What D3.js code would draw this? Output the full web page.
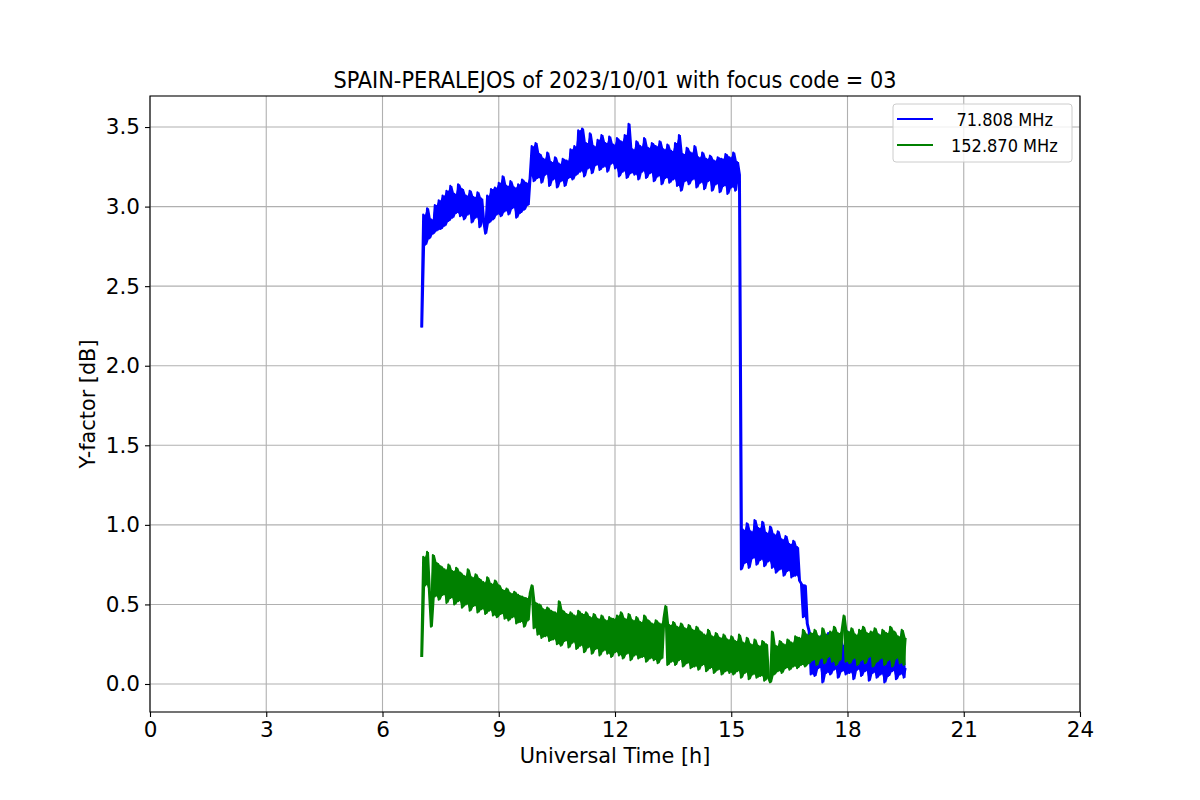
<!DOCTYPE html>
<html>
<head>
<meta charset="utf-8">
<script src="https://cdn.jsdelivr.net/npm/d3@7"></script>
<style>
  html, body { margin: 0; padding: 0; background: #fff; }
  svg { display: block; }
  .tick text { font-family: "DejaVu Sans", sans-serif; }
</style>
</head>
<body>
<svg id="chart" width="1200" height="800"></svg>
<script>
// ---- DATA ----
const titleText = "SPAIN-PERALEJOS of 2023/10/01 with focus code = 03";
const xLabel = "Universal Time [h]";
const yLabel = "Y-factor [dB]";
const seriesNames = ["71.808 MHz", "152.870 MHz"];
const xTicks = [0, 3, 6, 9, 12, 15, 18, 21, 24];
const yTicks = [0.0, 0.5, 1.0, 1.5, 2.0, 2.5, 3.0, 3.5];
const tStart = 7.0;   // first sample time [h]
const tStep = 0.05;   // sampling interval [h]

const blue = [
  2.24, 2.95, 2.76, 2.99, 2.80, 2.92, 2.83, 3.01, 2.85, 3.04, 2.86, 3.07, 2.88, 3.10, 2.91, 3.13, 2.93, 3.08, 2.96, 3.14,
  2.94, 3.11, 2.92, 3.07, 2.95, 3.10, 2.90, 3.06, 2.93, 3.09, 2.87, 3.05, 2.91, 2.83, 3.07, 2.90, 3.11, 2.92, 3.12, 2.95,
  3.15, 2.94, 3.19, 2.97, 3.13, 2.95, 3.16, 2.99, 3.12, 2.93, 3.14, 2.96, 3.17, 2.98, 3.15, 3.01, 3.19, 3.38, 3.16, 3.40,
  3.18, 3.33, 3.15, 3.30, 3.20, 3.34, 3.13, 3.28, 3.17, 3.31, 3.12, 3.27, 3.16, 3.30, 3.13, 3.29, 3.18, 3.36, 3.17, 3.38,
  3.20, 3.48, 3.22, 3.49, 3.19, 3.40, 3.24, 3.46, 3.21, 3.38, 3.26, 3.42, 3.23, 3.45, 3.25, 3.40, 3.22, 3.44, 3.27, 3.39,
  3.24, 3.43, 3.19, 3.41, 3.22, 3.45, 3.18, 3.52, 3.21, 3.36, 3.20, 3.41, 3.17, 3.38, 3.22, 3.43, 3.18, 3.37, 3.21, 3.40,
  3.16, 3.38, 3.19, 3.41, 3.14, 3.36, 3.18, 3.39, 3.15, 3.35, 3.17, 3.40, 3.13, 3.45, 3.10, 3.33, 3.16, 3.37, 3.14, 3.34,
  3.17, 3.38, 3.12, 3.31, 3.15, 3.34, 3.11, 3.30, 3.16, 3.32, 3.10, 3.29, 3.14, 3.31, 3.09, 3.30, 3.13, 3.33, 3.08, 3.31,
  3.12, 3.34, 3.10, 3.28, 3.20, 0.72, 0.97, 0.76, 1.01, 0.73, 0.96, 0.79, 1.03, 0.75, 0.98, 0.78, 1.02, 0.74, 0.95, 0.77,
  0.99, 0.73, 0.94, 0.70, 0.96, 0.72, 0.91, 0.68, 0.93, 0.71, 0.88, 0.67, 0.90, 0.68, 0.86, 0.65, 0.63, 0.42, 0.62, 0.38,
  0.33, 0.06, 0.28, 0.05, 0.22, 0.10, 0.30, 0.01, 0.25, 0.07, 0.32, 0.06, 0.20, 0.09, 0.27, 0.04, 0.31, 0.08, 0.24, 0.06,
  0.33, 0.07, 0.26, 0.03, 0.30, 0.09, 0.22, 0.05, 0.34, 0.08, 0.27, 0.02, 0.29, 0.07, 0.24, 0.04, 0.31, 0.06, 0.25, 0.01,
  0.28, 0.05, 0.30, 0.08, 0.22, 0.03, 0.27, 0.06, 0.33, 0.04, 0.10
];

const green = [
  0.17, 0.80, 0.62, 0.83, 0.58, 0.36, 0.81, 0.55, 0.76, 0.53, 0.74, 0.56, 0.72, 0.51, 0.75, 0.54, 0.71, 0.50, 0.73, 0.52,
  0.70, 0.48, 0.68, 0.50, 0.72, 0.46, 0.67, 0.49, 0.69, 0.45, 0.66, 0.47, 0.64, 0.44, 0.67, 0.46, 0.63, 0.43, 0.65, 0.42,
  0.62, 0.44, 0.59, 0.41, 0.60, 0.40, 0.57, 0.42, 0.58, 0.38, 0.56, 0.39, 0.55, 0.36, 0.54, 0.40, 0.57, 0.62, 0.35, 0.51,
  0.31, 0.50, 0.29, 0.47, 0.30, 0.48, 0.27, 0.46, 0.28, 0.45, 0.25, 0.52, 0.24, 0.46, 0.27, 0.44, 0.23, 0.45, 0.26, 0.43,
  0.22, 0.46, 0.24, 0.44, 0.20, 0.45, 0.23, 0.42, 0.19, 0.44, 0.22, 0.41, 0.18, 0.43, 0.21, 0.40, 0.19, 0.42, 0.17, 0.41,
  0.20, 0.43, 0.18, 0.45, 0.16, 0.41, 0.19, 0.44, 0.15, 0.40, 0.18, 0.42, 0.16, 0.39, 0.17, 0.43, 0.14, 0.40, 0.16, 0.38,
  0.15, 0.40, 0.13, 0.38, 0.16, 0.41, 0.49, 0.12, 0.37, 0.14, 0.39, 0.12, 0.36, 0.15, 0.38, 0.11, 0.35, 0.13, 0.37, 0.10,
  0.34, 0.11, 0.36, 0.09, 0.33, 0.12, 0.31, 0.08, 0.34, 0.10, 0.30, 0.07, 0.32, 0.09, 0.29, 0.06, 0.31, 0.08, 0.28, 0.07,
  0.30, 0.06, 0.27, 0.08, 0.31, 0.04, 0.26, 0.07, 0.29, 0.03, 0.25, 0.06, 0.28, 0.04, 0.24, 0.05, 0.27, 0.02, 0.25, 0.04,
  0.01, 0.33, 0.06, 0.24, 0.08, 0.27, 0.07, 0.25, 0.10, 0.28, 0.09, 0.26, 0.11, 0.30, 0.10, 0.29, 0.12, 0.34, 0.11, 0.31,
  0.13, 0.32, 0.15, 0.34, 0.12, 0.30, 0.16, 0.35, 0.13, 0.31, 0.17, 0.33, 0.14, 0.36, 0.12, 0.32, 0.15, 0.34, 0.43, 0.14,
  0.33, 0.13, 0.35, 0.16, 0.31, 0.12, 0.34, 0.15, 0.36, 0.13, 0.32, 0.17, 0.33, 0.11, 0.35, 0.14, 0.31, 0.16, 0.34, 0.12,
  0.32, 0.15, 0.36, 0.11, 0.33, 0.16, 0.30, 0.13, 0.34, 0.12, 0.29
];

// ---- LAYOUT ----
const svg = d3.select("#chart");
const M = { left: 150, right: 1080, top: 96, bottom: 712 };
const x = d3.scaleLinear().domain([0, 24]).range([M.left, M.right]);
const y = d3.scaleLinear().domain([-0.176, 3.695]).range([M.bottom, M.top]);

const colors = ["#0000ff", "#008000"];

// grid
const grid = svg.append("g");
grid.selectAll(".gx").data(xTicks).enter().append("line")
  .attr("x1", d => x(d)).attr("x2", d => x(d))
  .attr("y1", M.top).attr("y2", M.bottom)
  .attr("stroke", "#b0b0b0").attr("stroke-width", 1.1);
grid.selectAll(".gy").data(yTicks).enter().append("line")
  .attr("x1", M.left).attr("x2", M.right)
  .attr("y1", d => y(d)).attr("y2", d => y(d))
  .attr("stroke", "#b0b0b0").attr("stroke-width", 1.1);

// clip
svg.append("clipPath").attr("id", "clip").append("rect")
  .attr("x", M.left).attr("y", M.top)
  .attr("width", M.right - M.left).attr("height", M.bottom - M.top);

const tAt = i => tStart + i * tStep;
const line = d3.line()
  .x((d, i) => x(tAt(i)))
  .y(d => y(d));

// dense band: fill between each sample and the one before it
const band = d3.area()
  .x((d, i) => x(tAt(i)))
  .y0((d, i, arr) => y(Math.min(d, arr[Math.max(0, i - 1)])))
  .y1((d, i, arr) => y(Math.max(d, arr[Math.max(0, i - 1)])));

const plot = svg.append("g").attr("clip-path", "url(#clip)");
[blue, green].forEach((s, k) => {
  const g = plot.append("g");
  g.append("path").datum(s)
    .attr("d", band)
    .attr("fill", colors[k]).attr("stroke", "none");
  g.append("path").datum(s)
    .attr("d", line)
    .attr("fill", "none")
    .attr("stroke", colors[k])
    .attr("stroke-width", 2.1)
    .attr("stroke-linejoin", "round");
});

// axes
const xAxis = d3.axisBottom(x).tickValues(xTicks).tickFormat(d3.format("d"))
  .tickSizeInner(5).tickSizeOuter(0).tickPadding(5);
const yAxis = d3.axisLeft(y).tickValues(yTicks).tickFormat(d3.format(".1f"))
  .tickSizeInner(5).tickSizeOuter(0).tickPadding(5);

const gx = svg.append("g").attr("transform", `translate(0,${M.bottom})`).call(xAxis);
const gy = svg.append("g").attr("transform", `translate(${M.left},0)`).call(yAxis);
[gx, gy].forEach(g => {
  g.select(".domain").remove();
  g.selectAll(".tick line").attr("stroke", "#000").attr("stroke-width", 1.1);
  g.selectAll(".tick text").attr("font-size", 21.5).attr("fill", "#000");
});

// frame
svg.append("rect")
  .attr("x", M.left).attr("y", M.top)
  .attr("width", M.right - M.left).attr("height", M.bottom - M.top)
  .attr("fill", "none").attr("stroke", "#000").attr("stroke-width", 1.1);

// labels
svg.append("text")
  .attr("x", (M.left + M.right) / 2).attr("y", 763)
  .attr("text-anchor", "middle")
  .attr("font-family", "DejaVu Sans, sans-serif").attr("font-size", 20.8)
  .text(xLabel);
svg.append("text")
  .attr("transform", `translate(95,${(M.top + M.bottom) / 2}) rotate(-90)`)
  .attr("text-anchor", "middle")
  .attr("font-family", "DejaVu Sans, sans-serif").attr("font-size", 20.8)
  .text(yLabel);
svg.append("text")
  .attr("x", (M.left + M.right) / 2).attr("y", 88.3)
  .attr("text-anchor", "middle")
  .attr("font-family", "'DejaVu Sans Condensed', 'DejaVu Sans', sans-serif")
  .attr("font-stretch", "condensed")
  .attr("font-size", 23.2)
  .text(titleText);

// legend
const lg = svg.append("g");
lg.append("rect")
  .attr("x", 893).attr("y", 104).attr("width", 179).attr("height", 58)
  .attr("rx", 3).attr("fill", "#fff").attr("fill-opacity", 0.8)
  .attr("stroke", "#cccccc").attr("stroke-width", 1);
const legendX = [956.5, 951];
seriesNames.forEach((name, k) => {
  const yy = 119 + k * 26;
  lg.append("line")
    .attr("x1", 897).attr("x2", 933).attr("y1", yy).attr("y2", yy)
    .attr("stroke", colors[k]).attr("stroke-width", 2.1);
  lg.append("text")
    .attr("x", legendX[k]).attr("y", yy + 6.5)
    .attr("font-family", "'DejaVu Sans Condensed', 'DejaVu Sans', sans-serif")
    .attr("font-stretch", "condensed")
    .attr("font-size", 18)
    .text(name);
});
</script>
</body>
</html>
